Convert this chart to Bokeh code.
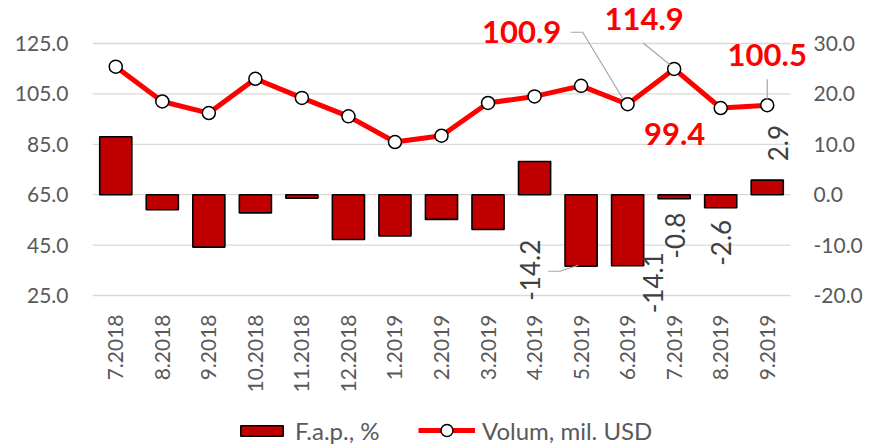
import math
from bokeh.plotting import figure
from bokeh.layouts import column
from bokeh.models import (Range1d, LinearAxis, FixedTicker, Legend, LegendItem,
                          ColumnDataSource, PrintfTickFormatter, LabelSet)
from bokeh.core.properties import value
from bokeh.embed import file_html
from bokeh.resources import INLINE

# ---------------- data ----------------
months = ["7.2018", "8.2018", "9.2018", "10.2018", "11.2018", "12.2018", "1.2019",
          "2.2019", "3.2019", "4.2019", "5.2019", "6.2019", "7.2019", "8.2019", "9.2019"]
volum = [115.8, 102.0, 97.4, 111.0, 103.4, 96.1, 85.9, 88.4, 101.4, 104.0, 108.2,
         100.9, 114.9, 99.4, 100.5]
fap = [11.5, -3.0, -10.4, -3.6, -0.7, -8.9, -8.2, -4.9, -6.9, 6.6, -14.2, -14.1,
       -0.8, -2.6, 2.9]
left_ticks = [25, 45, 65, 85, 105, 125]
right_ticks = [-20, -10, 0, 10, 20, 30]

# labelled points: (index, text, x_offset px, y_offset px (screen, down +))
line_labels = [(11, "100.9", -106, -72), (12, "114.9", -30, -50),
               (13, "99.4", -46, 26), (14, "100.5", 0, -50)]
bar_labels = [(10, "-14.2", -51, 4), (11, "-14.1", 25, 17), (12, "-0.8", 1, 37),
              (13, "-2.6", 0, 35), (14, "2.9", 11, -37)]
# leader lines: (index, series, list of pixel offsets from point)
leaders = [(11, "line", [(-57, -72), (-45, -72), (-5, -6)]),
           (12, "line", [(-31, -26), (-4, -4)]),
           (14, "line", [(0, -26), (0, -6)]),
           (10, "bar", [(-33, 5), (-21, 5), (-3, -1)])]

# ---------------- layout ----------------
W = 873
H_MAIN, H_LEG = 410, 35
FRAME_BOTTOM = 312
FL, FR, FT = 92, 61, 0
FB = H_MAIN - FRAME_BOTTOM
frame_w = W - FL - FR
frame_h = H_MAIN - FT - FB
n = len(months)
px_x = 698 / n                           # px per category
px_y = 2.52                              # px per left-axis unit
x_end = -0.5 + frame_w / px_x
y_top = 125 + 43 / px_y
y_bot = y_top - frame_h / px_y
to_right = lambda v: (v - 65) / 2.0

FONT = "Lato"
GREY = "#595959"
BAR_STYLE = dict(fill_color="#C00000", line_color="black", line_width=1.6)
LINE_STYLE = dict(line_color="#FF0000", line_width=5)
MARK_STYLE = dict(marker="circle", size=13, fill_color="white",
                  line_color="black", line_width=1.5)

p = figure(width=W, height=H_MAIN, output_backend="svg", toolbar_location=None,
           title=None, x_range=Range1d(-0.5, x_end),
           y_range=Range1d(y_bot, y_top),
           min_border_left=FL, min_border_right=FR, min_border_top=FT,
           min_border_bottom=FB)
p.outline_line_color = None
p.extra_y_ranges = {"right": Range1d(to_right(y_bot), to_right(y_top))}

xs = list(range(n))
src = ColumnDataSource(dict(x=xs, volum=volum, fap=fap))

# horizontal gridlines, limited to the category area
p.xgrid.visible = False
p.ygrid.visible = False
p.segment(x0=[-0.5] * len(left_ticks), x1=[n - 0.5] * len(left_ticks),
          y0=left_ticks, y1=left_ticks, line_color="#D9D9D9", line_width=1.3)

bars = p.vbar(x="x", top="fap", bottom=0, width=0.69, source=src,
              y_range_name="right", **BAR_STYLE)
line = p.line(x="x", y="volum", source=src, **LINE_STYLE)
marks = p.scatter(x="x", y="volum", source=src, **MARK_STYLE)

# leader lines
lx, ly = [], []
for i, series, offs in leaders:
    base_y = volum[i] if series == "line" else 65 + 2 * fap[i]
    lx.append([i + ox / px_x for ox, oy in offs])
    ly.append([base_y - oy / px_y for ox, oy in offs])
p.multi_line(xs=lx, ys=ly, line_color="#A6A6A6", line_width=1.2)

# data labels
ls = ColumnDataSource(dict(x=[a[0] for a in line_labels],
                           y=[volum[a[0]] for a in line_labels],
                           t=[a[1] for a in line_labels],
                           ox=[a[2] for a in line_labels],
                           oy=[-a[3] for a in line_labels]))
p.add_layout(LabelSet(x="x", y="y", text="t", x_offset="ox", y_offset="oy",
                      source=ls, text_font=value(FONT), text_font_size="31px",
                      text_font_style="bold", text_color="#FF0000",
                      text_align="center", text_baseline="middle"))

bs = ColumnDataSource(dict(x=[a[0] for a in bar_labels],
                           y=[fap[a[0]] for a in bar_labels],
                           t=[a[1] for a in bar_labels],
                           ox=[a[2] for a in bar_labels],
                           oy=[-a[3] for a in bar_labels]))
p.add_layout(LabelSet(x="x", y="y", text="t", x_offset="ox", y_offset="oy",
                      source=bs, y_range_name="right", angle=math.pi / 2,
                      text_font=value(FONT), text_font_size="26px",
                      text_color="#404040", text_align="center",
                      text_baseline="middle"))

# axes
def style_axis(ax):
    ax.axis_line_color = None
    ax.major_tick_line_color = None
    ax.minor_tick_line_color = None
    ax.major_tick_out = 0
    ax.major_tick_in = 0
    ax.major_label_text_font = FONT
    ax.major_label_text_font_size = "21px"
    ax.major_label_text_color = GREY

p.yaxis.ticker = FixedTicker(ticks=left_ticks)
p.yaxis.formatter = PrintfTickFormatter(format="%.1f")
p.yaxis.major_label_standoff = 24
style_axis(p.yaxis[0])

ry = LinearAxis(y_range_name="right", ticker=FixedTicker(ticks=right_ticks),
                formatter=PrintfTickFormatter(format="%.1f"))
style_axis(ry)
ry.major_label_standoff = 1
p.add_layout(ry, "right")

p.xaxis.ticker = FixedTicker(ticks=xs)
p.xaxis.major_label_overrides = {i: m for i, m in enumerate(months)}
p.xaxis.major_label_orientation = math.pi / 2
p.xaxis.major_label_standoff = 2
style_axis(p.xaxis[0])

# ---------------- legend strip ----------------
lg = figure(width=W, height=H_LEG, output_backend="svg", toolbar_location=None,
            title=None, x_axis_location=None, y_axis_location=None,
            x_range=Range1d(0, 1), y_range=Range1d(0, 1),
            min_border=0)
lg.outline_line_color = None
lg.xgrid.visible = False
lg.ygrid.visible = False
NAN = float("nan")
# swatch-only renderers (no drawable data)
lbar = lg.vbar(x=[NAN], top=[NAN], bottom=[NAN], width=0.5, **BAR_STYLE)
lline = lg.line(x=[NAN, NAN], y=[NAN, NAN], **LINE_STYLE)
lmark = lg.scatter(x=[NAN], y=[NAN], **MARK_STYLE)

common = dict(orientation="horizontal", padding=0, margin=0, label_standoff=7,
              label_text_font=FONT, label_text_font_size="24px",
              label_text_color=GREY, background_fill_alpha=0,
              border_line_alpha=0)
leg1 = Legend(items=[LegendItem(label="F.a.p., %", renderers=[lbar])],
              location=(143, 0), glyph_width=53, glyph_height=13,
              label_height=22, **common)
leg2 = Legend(items=[LegendItem(label="Volum, mil. USD", renderers=[lline, lmark])],
              location=(326, 0), glyph_width=57, glyph_height=30,
              label_height=22, **common)
lg.add_layout(leg1, "center")
lg.add_layout(leg2, "center")

layout = column(p, lg, spacing=0)
open("out.html", "w").write(file_html(layout, INLINE))
